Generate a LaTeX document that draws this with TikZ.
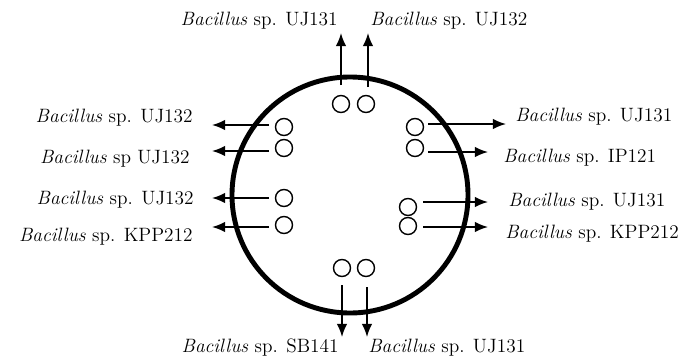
\documentclass[tikz,border=0pt]{standalone}
\usepackage{tikz}
\usetikzlibrary{arrows.meta}
\tikzset{
  spot/.style={circle,draw,line width=0.8pt,minimum size=0.34cm,inner sep=0pt},
  lbl/.style={inner sep=0pt,font=\fontsize{11}{13}\selectfont},
  arr/.style={-{Latex[length=7.5pt,width=6pt]},line width=0.9pt}
}
\newcommand{\bac}{\textit{Bacillus}}

\begin{document}
\begin{tikzpicture}[x=0.02cm,y=-0.02cm]
\useasboundingbox (0,0) rectangle (696,362);
\draw[line width=2.8pt] (350,195) circle (118);

\node[spot] (s1) at (341,104) {};
\node[spot] (s2) at (366,104) {};
\node[spot] (s3) at (284,127) {};
\node[spot] (s4) at (284,148) {};
\node[spot] (s5) at (284,198) {};
\node[spot] (s6) at (284,225) {};
\node[spot] (s7) at (415,127) {};
\node[spot] (s8) at (415,148) {};
\node[spot] (s9) at (408,207) {};
\node[spot] (s10) at (408,226) {};
\node[spot] (s11) at (342,268) {};
\node[spot] (s12) at (366,268) {};

\node[lbl,anchor=east] (t1) at (338,21) {\bac{} sp. UJ131};
\node[lbl,anchor=west] (t2) at (370,21) {\bac{} sp. UJ132};
\node[lbl,anchor=east] (l1) at (193,118) {\bac{} sp. UJ132};
\node[lbl,anchor=east] (l2) at (190,159) {\bac{} sp UJ132};
\node[lbl,anchor=east] (l3) at (194,200) {\bac{} sp. UJ132};
\node[lbl,anchor=east] (l4) at (193,237) {\bac{} sp. KPP212};
\node[lbl,anchor=west] (r1) at (515,117) {\bac{} sp. UJ131};
\node[lbl,anchor=west] (r2) at (503,158) {\bac{} sp. IP121};
\node[lbl,anchor=west] (r3) at (508,202) {\bac{} sp. UJ131};
\node[lbl,anchor=west] (r4) at (505,234) {\bac{} sp. KPP212};
\node[lbl,anchor=east] (b1) at (339,348) {\bac{} sp. SB141};
\node[lbl,anchor=west] (b2) at (368,348) {\bac{} sp. UJ131};

\coordinate (a1) at (341,85);  \coordinate (e1) at (341,33);
\coordinate (a2) at (368,87);  \coordinate (e2) at (368,33);
\coordinate (a3) at (269,125); \coordinate (e3) at (212,125);
\coordinate (a4) at (269,151); \coordinate (e4) at (212,151);
\coordinate (a5) at (269,198); \coordinate (e5) at (212,198);
\coordinate (a6) at (269,227); \coordinate (e6) at (212,227);
\coordinate (a7) at (428,124); \coordinate (e7) at (506,124);
\coordinate (a8) at (428,152); \coordinate (e8) at (488,152);
\coordinate (a9) at (423,202); \coordinate (e9) at (488,202);
\coordinate (a10) at (423,227); \coordinate (e10) at (488,227);
\coordinate (a11) at (342,285); \coordinate (e11) at (342,337);
\coordinate (a12) at (367,287); \coordinate (e12) at (367,337);

\foreach \i in {1,...,12}
  \draw[arr] (a\i) -- (e\i);
\end{tikzpicture}
\end{document}
